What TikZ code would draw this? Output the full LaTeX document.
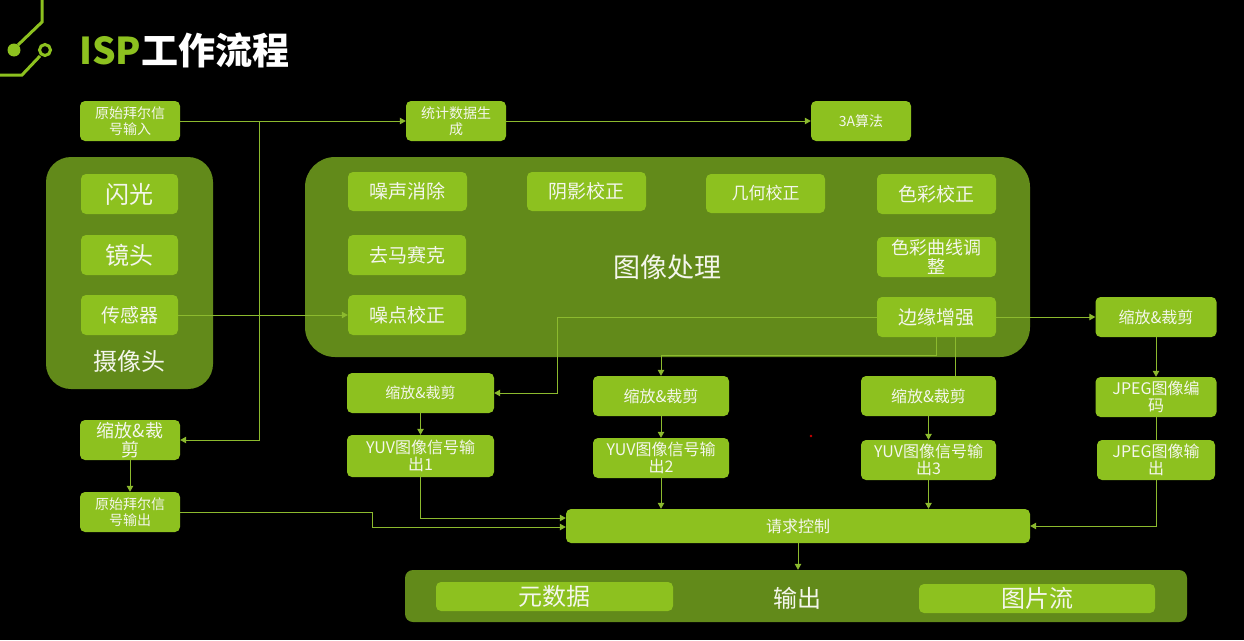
\documentclass[tikz,border=0pt]{standalone}
\usepackage{fontspec}
\setmainfont{Noto Sans CJK SC}
\usetikzlibrary{arrows.meta}
\definecolor{boxg}{HTML}{8DC11F}
\definecolor{contg}{HTML}{628A1A}
\definecolor{lineg}{HTML}{8CBA2E}
\definecolor{txt}{HTML}{F4F6EC}
\tikzset{
  sz/.style 2 args={minimum width=#1pt, minimum height=#2pt},
  fs/.style 2 args={font=\fontsize{#1}{#2}\selectfont},
  box/.style={fill=boxg, rounded corners=5pt, text=txt, align=center, inner sep=0pt, fs={14}{16}},
  cont/.style={fill=contg, inner sep=0pt},
  lbl/.style={text=txt, inner sep=0pt, align=center},
  conn/.style={draw=lineg, line width=1pt, -{Triangle[width=6.5pt,length=6pt]}},
  plainline/.style={draw=lineg, line width=1pt},
  deco/.style={draw=boxg, line width=3pt},
}
\begin{document}
\begin{tikzpicture}[x=1pt,y=-1pt]
\useasboundingbox (0,0) rectangle (1244,640);
\fill[black] (0,0) rectangle (1244,640);

% decoration
\draw[deco] (42,0) -- (42,22) -- (18,45);
\fill[boxg] (14,50) circle (6.5);
\draw[deco] (45,50) circle (5.5);
\draw[deco] (40,56) -- (22,75) -- (0,75);

% title
\node[anchor=west, inner sep=0pt, font=\fontsize{37}{40}\selectfont\bfseries] (title) at (79,50) {\textcolor{boxg}{ISP}\textcolor{white}{工作流程}};

% containers
\node[cont, sz={167}{232}, rounded corners=25pt] (cam) at (129.5,273) {};
\node[cont, sz={725}{200}, rounded corners=30pt] (proc) at (667.5,257) {};
\node[cont, sz={782}{52}, rounded corners=8pt] (outc) at (796,596) {};

% top row
\node[box, sz={100}{40}] (in0) at (130,121) {原始拜尔信\\号输入};
\node[box, sz={100}{40}] (stat) at (456,121) {统计数据生\\成};
\node[box, sz={100}{40}] (a3) at (861,121) {3A算法};

% camera
\node[box, sz={97}{40}, fs={24}{26}] (flash) at (129.5,194) {闪光};
\node[box, sz={97}{40}, fs={24}{26}] (lens) at (129.5,255) {镜头};
\node[box, sz={97}{40}, fs={19}{21}] (sensor) at (129.5,315) {传感器};
\node[lbl, fs={24}{26}] (camlbl) at (129,361) {摄像头};

% image processing
\node[box, sz={119}{39}, fs={19}{21}] (nr) at (407.5,191.5) {噪声消除};
\node[box, sz={119}{39}, fs={19}{21}] (shade) at (586.5,191.5) {阴影校正};
\node[box, sz={119}{39}, fs={17}{19}] (geo) at (765.5,193.5) {几何校正};
\node[box, sz={119}{40}, fs={19}{21}] (color) at (936.5,194) {色彩校正};
\node[box, sz={118}{40}, fs={19}{21}] (demo) at (407,255) {去马赛克};
\node[box, sz={119}{40}, fs={18}{19}] (curve) at (936.5,257) {色彩曲线调\\整};
\node[box, sz={118}{40}, fs={19}{21}] (dpc) at (407,315) {噪点校正};
\node[box, sz={119}{40}, fs={19}{21}] (edge) at (936.5,317) {边缘增强};
\node[lbl, fs={27}{29}] (proclbl) at (667,267) {图像处理};

% right column
\node[box, sz={121}{40}, fs={16}{18}] (sc4) at (1156,317) {缩放\&裁剪};
\node[box, sz={121}{40}, fs={16}{17}] (jenc) at (1156,397) {JPEG图像编\\码};
\node[box, sz={118}{40}, fs={16}{17}] (jout) at (1156,460) {JPEG图像输\\出};

% middle columns
\node[box, sz={147}{40}, fs={15}{17}] (sc1) at (420.5,393) {缩放\&裁剪};
\node[box, sz={147}{42}, fs={16}{17}] (yuv1) at (420.5,456) {YUV图像信号输\\出1};
\node[box, sz={136}{40}, fs={16}{18}] (sc2) at (661,396) {缩放\&裁剪};
\node[box, sz={136}{40}, fs={16}{17}] (yuv2) at (661,458) {YUV图像信号输\\出2};
\node[box, sz={135}{40}, fs={16}{18}] (sc3) at (928.5,396) {缩放\&裁剪};
\node[box, sz={135}{40}, fs={16}{17}] (yuv3) at (928.5,460) {YUV图像信号输\\出3};

% left column
\node[box, sz={100}{40}, fs={18}{19}] (sc0) at (130,440) {缩放\&裁\\剪};
\node[box, sz={100}{40}] (out0) at (130,512) {原始拜尔信\\号输出};

% request & output
\node[box, sz={464}{34}, fs={16}{18}] (req) at (798,526) {请求控制};
\node[box, sz={237}{29}, fs={24}{26}] (meta) at (554.5,596.5) {元数据};
\node[lbl, fs={24}{26}] (outlbl) at (797,598) {输出};
\node[box, sz={236}{29}, fs={24}{26}] (stream) at (1037,598.5) {图片流};

% stray red dot
\fill[red!80!black] (811,436) circle (1.3);

% connectors
\coordinate (j1) at (259,121);
\draw[conn] (in0.east) -- (stat.west);
\draw[conn] (j1) |- (sc0.east);
\draw[conn] (stat.east) -- (a3.west);
\draw[conn] (sensor.east) -- (dpc.west);

\coordinate (e1) at (557,317);
\draw[conn] (edge.west) -- (e1) |- (sc1.east);
\draw[conn] (edge.south) -- ++(0,18) -| (sc2.north);
\draw[plainline] ([xshift=18.5pt]edge.south) -- ([xshift=18.5pt]edge.south |- sc3.north);
\draw[conn] (edge.east) -- (sc4.west);

\draw[conn] (sc1.south) -- (yuv1.north);
\draw[conn] (sc2.south) -- (yuv2.north);
\draw[conn] (sc3.south) -- (yuv3.north);
\draw[conn] (sc0.south) -- (out0.north);
\draw[conn] (sc4.south) -- (jenc.north);
\draw[plainline] (jenc.south) -- (jout.north);

\draw[conn] (yuv1.south) |- ([yshift=8pt]req.west);
\coordinate (o1) at (372,512);
\draw[conn] (out0.east) -- (o1) |- ([yshift=-1pt]req.west);
\draw[conn] (yuv2.south) -- (yuv2.south |- req.north);
\draw[conn] (yuv3.south) -- (yuv3.south |- req.north);
\draw[conn] (jout.south) |- (req.east);
\draw[conn] (req.south) -- (req.south |- outc.north);
\end{tikzpicture}
\end{document}
